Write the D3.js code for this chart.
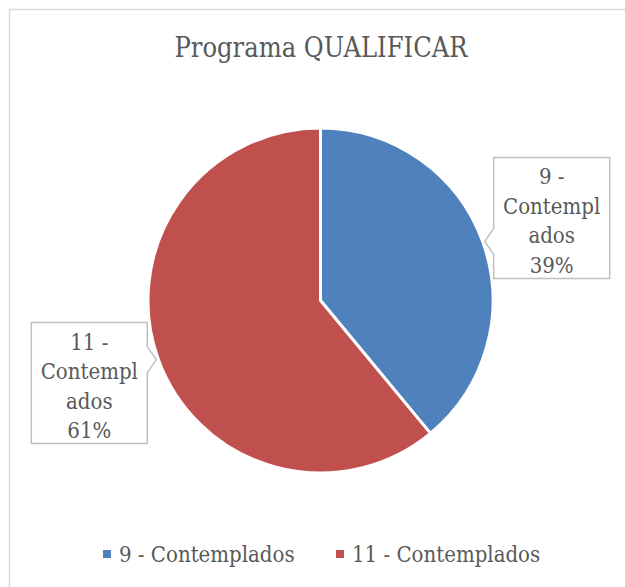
<!DOCTYPE html>
<html>
<head>
<meta charset="utf-8">
<script src="https://cdn.jsdelivr.net/npm/d3@7"></script>
<style>
    body { margin: 0; background: #fff; }
    svg text { font-family: "DejaVu Serif Condensed", "DejaVu Serif", serif; fill: #595959; }
</style>
</head>
<body>
<div id="chart"></div>
<script>
const categories = ["9 - Contemplados", "11 - Contemplados"];
const values = [39, 61];
const labelLines = [["9 -", "Contempl", "ados"], ["11 -", "Contempl", "ados"]];
const colors = ["#4F81BD", "#C0504D"];
const title = "Programa QUALIFICAR";

const width = 625, height = 587;
const cx = 320.5, cy = 300.5, radius = 172.5;

const svg = d3.select("#chart")
    .append("svg")
    .attr("width", width)
    .attr("height", height);

// chart area border (runs off the right and bottom edges)
svg.append("rect")
    .attr("x", 9.5).attr("y", 9.5)
    .attr("width", 700).attr("height", 700)
    .attr("fill", "#fff")
    .attr("stroke", "#D9D9D9")
    .attr("stroke-width", 1.5);

svg.append("text")
    .attr("x", 321)
    .attr("y", 57)
    .attr("text-anchor", "middle")
    .style("font-size", "27px")
    .text(title);

const total = d3.sum(values);
const pie = d3.pie().sort(null).value(d => d)(values);
const arc = d3.arc().innerRadius(0).outerRadius(radius);

const g = svg.append("g").attr("transform", `translate(${cx},${cy})`);

g.selectAll("path.slice")
    .data(pie)
    .enter().append("path")
    .attr("class", "slice")
    .attr("d", arc)
    .attr("fill", (d, i) => colors[i])
    .attr("stroke", "#fff")
    .attr("stroke-width", 3)
    .attr("stroke-linejoin", "round");

// callout boxes: pointer tip sits just outside the middle of each slice
const boxW = 116, boxH = 121, gap = 9, pointerHalf = 13;
const tipTop = [84, 37];  // how far below the box top the pointer sits

pie.forEach((d, i) => {
    const mid = (d.startAngle + d.endAngle) / 2;
    const tx = cx + Math.sin(mid) * (radius + 2);
    const ty = cy - Math.cos(mid) * (radius + 2);
    const right = Math.sin(mid) > 0;
    const x0 = right ? tx + gap : tx - gap - boxW;
    const y0 = ty - tipTop[i];
    const x1 = x0 + boxW, y1 = y0 + boxH;
    let pts;
    if (right) {
        pts = [[x0, y0], [x1, y0], [x1, y1], [x0, y1], [x0, ty + pointerHalf], [tx, ty], [x0, ty - pointerHalf]];
    } else {
        pts = [[x0, y0], [x1, y0], [x1, ty - pointerHalf], [tx, ty], [x1, ty + pointerHalf], [x1, y1], [x0, y1]];
    }
    svg.append("path")
        .attr("d", d3.line()(pts) + "Z")
        .attr("fill", "#fff")
        .attr("stroke", "#BFBFBF")
        .attr("stroke-width", 1.5);

    const lines = labelLines[i].concat([Math.round(d.value / total * 100) + "%"]);
    svg.append("text")
        .attr("text-anchor", "middle")
        .style("font-size", "22px")
        .selectAll("tspan")
        .data(lines)
        .enter().append("tspan")
        .attr("x", (x0 + x1) / 2)
        .attr("y", (t, k) => y0 + 27 + k * 29.5)
        .text(t => t);
});

// legend
const legendX = [103, 336];
const legend = svg.selectAll("g.legend")
    .data(categories)
    .enter().append("g")
    .attr("class", "legend")
    .attr("transform", (d, i) => `translate(${legendX[i]},554)`);

legend.append("rect")
    .attr("x", 0).attr("y", -4)
    .attr("width", 8).attr("height", 8)
    .attr("fill", (d, i) => colors[i]);

legend.append("text")
    .attr("x", 16)
    .attr("y", 8)
    .style("font-size", "22px")
    .text(d => d);
</script>
</body>
</html>
